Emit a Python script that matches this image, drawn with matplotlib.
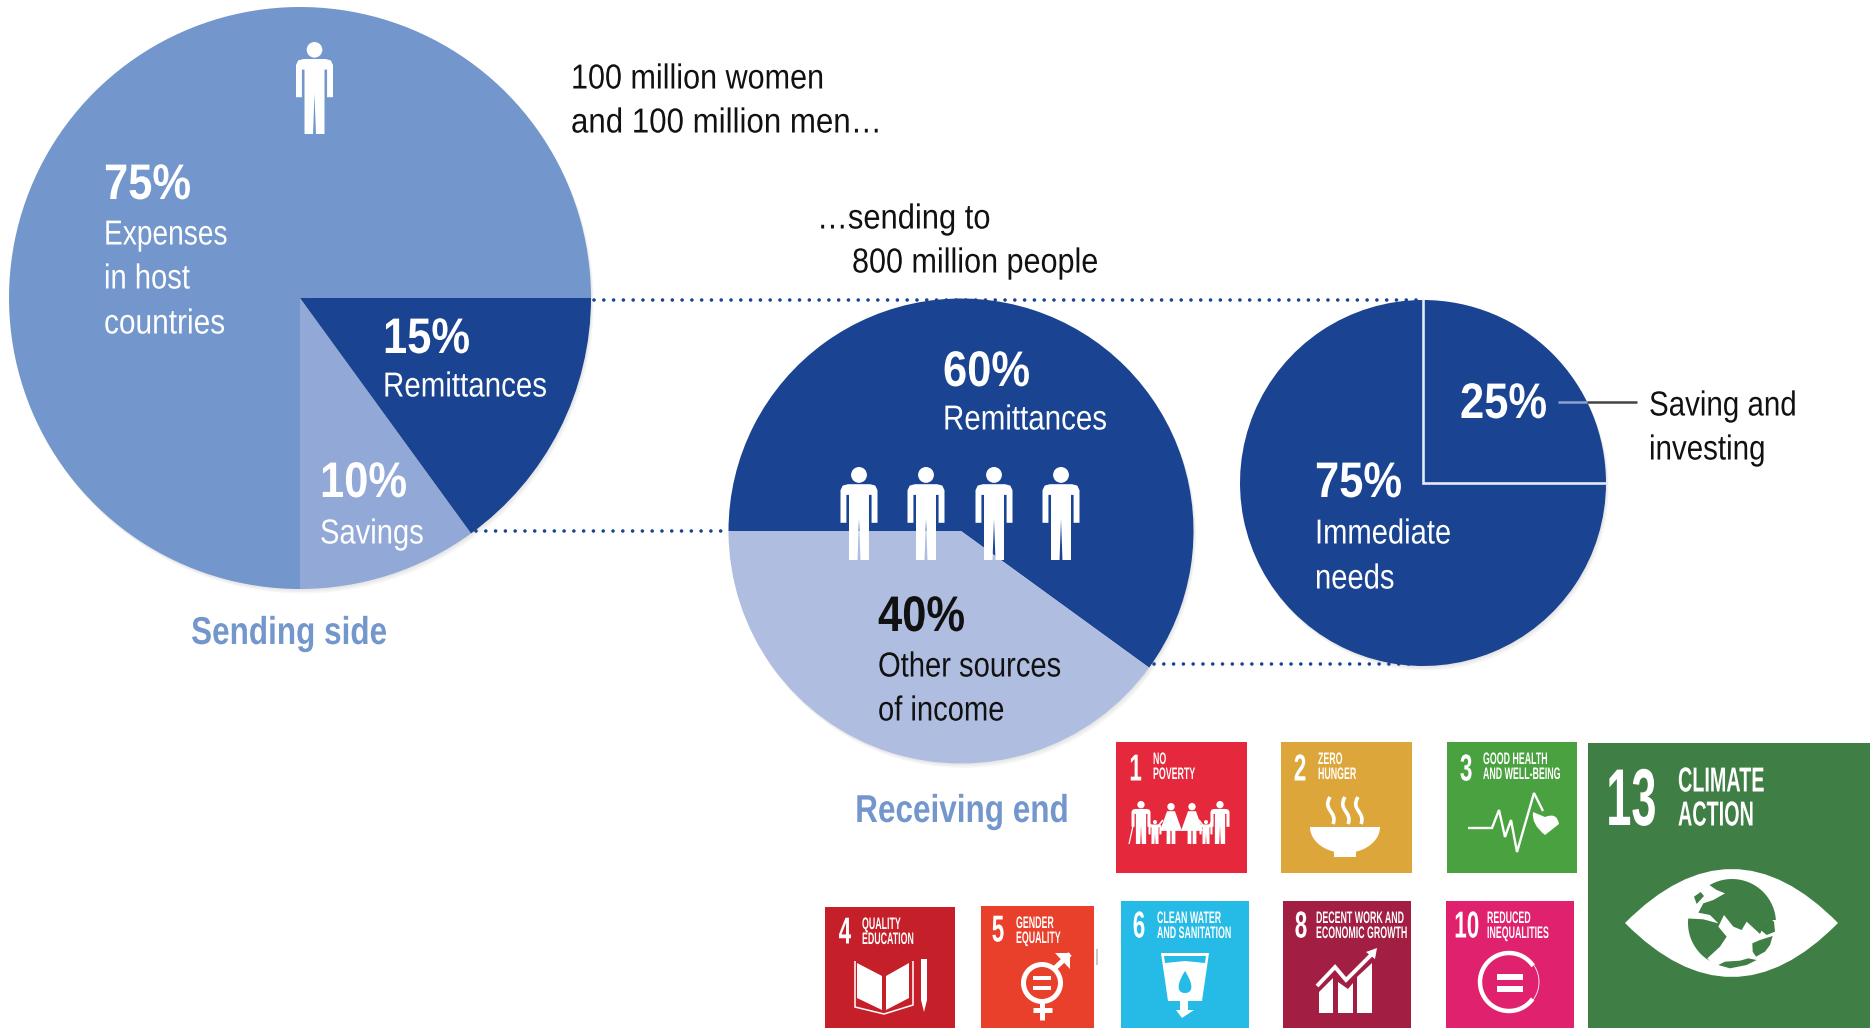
import numpy as np
import matplotlib
matplotlib.use("Agg")
import matplotlib.pyplot as plt
from matplotlib.colors import to_rgba
from matplotlib.patches import Circle, Polygon, PathPatch, Rectangle
from matplotlib.path import Path
from matplotlib.text import Text
from matplotlib.textpath import TextPath
from matplotlib.transforms import Affine2D, Bbox

# shares shown in the three circles
sending_values = [75, 10, 15]
receiving_values = [60, 40]
use_values = [25, 75]

# goal tiles: number, two title lines, colour
tile_numbers = ["1", "2", "3", "4", "5", "6", "8", "10", "13"]
tile_titles = [
    ["NO", "POVERTY"], ["ZERO", "HUNGER"], ["GOOD HEALTH", "AND WELL-BEING"],
    ["QUALITY", "EDUCATION"], ["GENDER", "EQUALITY"], ["CLEAN WATER", "AND SANITATION"],
    ["DECENT WORK AND", "ECONOMIC GROWTH"], ["REDUCED", "INEQUALITIES"], ["CLIMATE", "ACTION"],
]
tile_colors = ["#E5283C", "#DDA63A", "#49A23F", "#C5202A", "#E9402C",
               "#25BBE6", "#A21F43", "#E0226E", "#3F7E44"]

MID = "#7397CC"
PALE = "#92A9D7"
DARK = "#1A4491"
SOFT = "#AFBDE0"
INK = "#111111"

fig = plt.figure(figsize=(18.7, 10.28), dpi=100)
ax = fig.add_axes([0, 0, 1, 1])
ax.set_xlim(0, 1870)
ax.set_ylim(1028, 0)  # pixel style, y runs downwards


class SqueezedText(Text):
    # no condensed face is installed, so narrow the glyph outlines when drawing
    def __init__(self, *args, squeeze=1.0, **kwargs):
        super().__init__(*args, **kwargs)
        self.squeeze = squeeze

    def _placed_path(self):
        px = self.get_fontsize() * fig.dpi / 72
        tp = TextPath((0, 0), self.get_text(), size=px, prop=self.get_fontproperties())
        ext = tp.get_extents()
        x, y = self.get_transform().transform(self.get_unitless_position())
        dx = 0 if self.get_ha() == "left" else -(ext.x0 + ext.x1) / 2
        # y is the middle of the capitals
        return tp, Affine2D().translate(dx, 0).scale(self.squeeze, 1).translate(x, y - 0.36 * px)

    def draw(self, renderer):
        tp, trans = self._placed_path()
        gc = renderer.new_gc()
        gc.set_linewidth(0)
        renderer.draw_path(gc, tp, trans, rgbFace=to_rgba(self.get_color()))
        gc.restore()

    def get_window_extent(self, renderer=None, dpi=None):
        tp, trans = self._placed_path()
        return Bbox(tp.get_extents(trans))


def label(x, y, s, size=25, color="white", weight="normal", ha="left", squeeze=0.84):
    ax.add_artist(SqueezedText(x, y, s, fontsize=size, color=color, fontweight=weight,
                               family=["Liberation Sans"], ha=ha, zorder=7, squeeze=squeeze))


def pie(values, colors, cx, cy, r, start):
    for off in (1.5, 3, 4.5):
        ax.add_patch(Circle((cx + off * 0.6, cy + off), r, fc="k", ec="none", alpha=0.03, zorder=1))
    # y axis is flipped, so clockwise here reads as counterclockwise on screen
    ax.pie(values, colors=colors, center=(cx, cy), radius=r, startangle=start,
           counterclock=False, frame=True, wedgeprops=dict(linewidth=0, zorder=2))


def white(pts, z=5, color="white"):
    ax.add_patch(Polygon(pts, closed=True, fc=color, ec="none", zorder=z))


def stroke(xs, ys, lw=2.0, color="white", z=5):
    ax.plot(xs, ys, color=color, lw=lw, solid_capstyle="butt", solid_joinstyle="miter", zorder=z)


def person(cx, top, w, h, z=5):
    # head plus a body outline, both in fractions of the figure size
    ax.add_patch(Circle((cx, top + 0.085 * h), 0.085 * h, fc="white", ec="none", zorder=z))
    half = np.array([
        (0.04, 1.0), (0.27, 1.0), (0.27, 0.30), (0.34, 0.30), (0.34, 0.60), (0.50, 0.60),
        (0.50, 0.25), (0.44, 0.20), (0.30, 0.185), (0.0, 0.185),
    ])
    right = [(cx + px * w, top + py * h) for px, py in half]
    left = [(cx - px * w, top + py * h) for px, py in half[::-1]]
    white(right + left + [(cx, top + 0.56 * h)], z)


def dress(cx, top, w, h, z=5):
    ax.add_patch(Circle((cx, top + 0.09 * h), 0.09 * h, fc="white", ec="none", zorder=z))
    white([(cx - 0.18 * w, top + 0.2 * h), (cx + 0.18 * w, top + 0.2 * h),
           (cx + 0.5 * w, top + 0.68 * h), (cx + 0.2 * w, top + 0.68 * h),
           (cx + 0.2 * w, top + h), (cx + 0.03 * w, top + h), (cx + 0.03 * w, top + 0.68 * h),
           (cx - 0.03 * w, top + 0.68 * h), (cx - 0.03 * w, top + h), (cx - 0.2 * w, top + h),
           (cx - 0.2 * w, top + 0.68 * h), (cx - 0.5 * w, top + 0.68 * h)], z)


def curve(verts, codes, fc="white", ec="none", lw=0, z=5):
    ax.add_patch(PathPatch(Path(verts, codes), fc=fc, ec=ec, lw=lw, zorder=z))


def globe_pts(pts):
    # outline points for the globe are noted at 3x of the tile corner
    return [(1570 + x / 3, 730 + y / 3) for x, y in pts]


pie(sending_values, [MID, PALE, DARK], 300, 298, 291, 0)
pie(receiving_values, [DARK, SOFT], 961, 531, 232.5, 36)
pie(use_values, [DARK, DARK], 1423, 483, 183, 0)

# dotted leaders between the circles
dots = dict(color=DARK, lw=2.6, ls=(0, (0.01, 2.7)), dash_capstyle="round", zorder=3)
ax.plot([594, 1423], [300, 300], **dots)
ax.plot([476, 730], [531, 531], **dots)
ax.plot([1154, 1423], [664, 664], **dots)

# quarter marked on the right circle
ax.plot([1423, 1423, 1606], [300, 483, 483], color="#E4E9F4", lw=1.9, solid_joinstyle="miter", zorder=4)
stroke([1558, 1587], [402, 402], lw=1.8, color="#8CA3D0")
stroke([1587, 1637], [402, 402], lw=1.8, color="#444444")

person(314.5, 42, 37, 92)
for px in (859, 926, 994, 1061):
    person(px, 467, 37, 93)

label(571, 76, "100 million women", color=INK, squeeze=0.88)
label(571, 120, "and 100 million men…", color=INK, squeeze=0.9)
label(817, 216, "…sending to", color=INK, squeeze=0.89)
label(852, 260, "800 million people", color=INK, squeeze=0.88)

label(104, 181, f"{sending_values[0]}%", 36, weight="bold", squeeze=0.87)
label(104, 232, "Expenses", squeeze=0.81)
label(104, 276, "in host")
label(104, 321, "countries", squeeze=0.86)
label(383, 335, f"{sending_values[2]}%", 36, weight="bold", squeeze=0.87)
label(383, 384, "Remittances", squeeze=0.85)
label(320, 479, f"{sending_values[1]}%", 36, weight="bold", squeeze=0.87)
label(320, 531, "Savings")
label(289, 630, "Sending side", 28, MID, "bold", ha="center", squeeze=0.81)

label(943, 368, f"{receiving_values[0]}%", 36, weight="bold", squeeze=0.87)
label(943, 417, "Remittances", squeeze=0.85)
label(878, 613, f"{receiving_values[1]}%", 36, INK, "bold", squeeze=0.87)
label(878, 664, "Other sources", color=INK)
label(878, 708, "of income", color=INK)
label(962, 808, "Receiving end", 28, MID, "bold", ha="center", squeeze=0.81)

label(1460, 400, f"{use_values[0]}%", 36, weight="bold", squeeze=0.87)
label(1315, 479, f"{use_values[1]}%", 36, weight="bold", squeeze=0.87)
label(1315, 531, "Immediate")
label(1315, 576, "needs")
label(1649, 403, "Saving and", color=INK, squeeze=0.85)
label(1649, 447, "investing", color=INK, squeeze=0.85)

# goal tiles, layout kept apart from the tile contents
tile_boxes = [(1116, 742, 131, 131), (1281, 742, 131, 131), (1447, 742, 130, 131),
              (825, 907, 130, 121), (981, 906, 113, 122), (1121, 901, 128, 127),
              (1283, 901, 128, 127), (1446, 901, 128, 127), (1588, 743, 282, 285)]
number_x = [1136, 1300, 1466, 845, 998, 1139, 1301, 1467, 1632]
title_x = [1153, 1318, 1483, 862, 1016, 1157, 1316, 1487, 1678]
first_line_y = [758, 758, 758, 923, 922, 917, 917, 917, 779]
number_y = [767, 767, 767, 930, 928, 924, 924, 924, 796]

for i, (x, y, w, h) in enumerate(tile_boxes):
    ax.add_patch(Rectangle((x, y), w, h, fc=tile_colors[i], ec="none", zorder=3))
    big = i == 8
    label(number_x[i], number_y[i], tile_numbers[i], 58 if big else 27, weight="bold",
          ha="center", squeeze=0.56 if big else 0.6)
    for j, line in enumerate(tile_titles[i]):
        label(title_x[i], first_line_y[i] + (34 if big else 15) * j, line, 25 if big else 12,
              weight="bold", squeeze=0.57 if big else 0.53)

# 1 no poverty: family row
person(1141, 801, 19, 43)
person(1220, 801, 19, 43)
person(1155, 820, 13, 24)
person(1206, 820, 13, 24)
dress(1171, 803, 22, 41)
dress(1192, 803, 22, 41)
stroke([1129, 1133], [844, 826], lw=0.9)
stroke([1148, 1155, 1163], [822, 830, 820], lw=1.2)
stroke([1199, 1206, 1213], [820, 830, 820], lw=1.2)

# 2 zero hunger: bowl and steam
t = np.linspace(0, np.pi, 40)
white(np.column_stack([1345 + 35 * np.cos(t), 827 + 26 * np.sin(t)]))
white([(1334, 850), (1356, 850), (1356, 857), (1334, 857)])
for sx in (1330, 1345, 1358):
    curve([(sx, 797), (sx - 8, 810), (sx + 8, 812), (sx + 3, 824)],
          [Path.MOVETO, Path.CURVE4, Path.CURVE4, Path.CURVE4], fc="none", ec="white", lw=2.6)

# 3 health: pulse line and heart
stroke([1468, 1492, 1499, 1505, 1511, 1517, 1534, 1543],
       [828, 828, 810, 837, 820, 852, 793, 811], lw=1.7)
hx, hy = 1545, 822
curve([(hx, hy + 13), (hx - 14, hy + 2), (hx - 12, hy - 10), (hx, hy - 5),
       (hx + 12, hy - 10), (hx + 14, hy + 2), (hx, hy + 13)],
      [Path.MOVETO, Path.CURVE3, Path.CURVE3, Path.LINETO, Path.CURVE3, Path.CURVE3, Path.CLOSEPOLY])

# 4 education: open book and pencil
white([(857, 963), (882, 976), (882, 1010), (857, 998)])
white([(886, 976), (909, 963), (909, 998), (886, 1010)])
stroke([855, 855, 884, 913, 913], [961, 1007, 1014, 1005, 961], lw=1.1)
white([(921, 959), (927, 959), (927, 1000), (924, 1012), (921, 1000)])

# 5 gender: ring with arrow and cross
ax.add_patch(Circle((1042, 983), 18.5, fc="none", ec="white", lw=3.6, zorder=5))
white([(1033, 976), (1051, 976), (1051, 980), (1033, 980)])
white([(1033, 986), (1051, 986), (1051, 990), (1033, 990)])
stroke([1042, 1042], [1003, 1020], lw=3.6)
stroke([1033, 1052], [1010, 1010], lw=3.6)
stroke([1054, 1070], [969, 954], lw=3.6)
white([(1055, 953), (1070, 953), (1070, 969)])

# 6 water: glass with drop
white([(1161, 953), (1209, 953), (1202, 1001), (1188, 1001), (1188, 1010), (1194, 1010),
       (1182, 1018), (1176, 1010), (1180, 1010), (1180, 1001), (1168, 1001)])
white([(1164, 956), (1206, 956), (1205, 963), (1185, 961), (1165, 963)], z=6, color=tile_colors[5])
curve([(1185, 971), (1176, 985), (1177, 993), (1185, 993), (1193, 993), (1194, 985), (1185, 971)],
      [Path.MOVETO, Path.CURVE4, Path.CURVE4, Path.CURVE4, Path.CURVE4, Path.CURVE4, Path.CURVE4],
      fc=tile_colors[5], z=6)

# 8 work: rising bars and arrow
white([(1319, 1013), (1319, 992), (1333, 978), (1333, 1013)])
white([(1338, 1013), (1338, 982), (1348, 989), (1353, 983), (1353, 1013)])
white([(1357, 1013), (1357, 977), (1372, 963), (1372, 1013)])
stroke([1317, 1335, 1346, 1372], [986, 967, 980, 954], lw=2.8)
white([(1366, 952), (1377, 948), (1375, 959)])

# 10 inequalities: open ring and equals sign
t = np.radians(np.linspace(40, 322, 80))
ax.plot(1509 + 29 * np.cos(t), 982 + 29 * np.sin(t), color="white", lw=3.2, zorder=5)
t = np.radians(np.linspace(-32, 40, 30))
ax.plot(1509 + 30 * np.cos(t), 982 + 30 * np.sin(t), color="white", lw=0.6, zorder=5)
white([(1497, 974), (1523, 974), (1523, 980), (1497, 980)])
white([(1497, 986), (1523, 986), (1523, 992), (1497, 992)])

# 13 climate: eye holding a globe
curve([(1625, 923), (1732, 815), (1838, 923), (1732, 1031), (1625, 923)],
      [Path.MOVETO, Path.CURVE3, Path.CURVE3, Path.CURVE3, Path.CURVE3])
ax.add_patch(Circle((1732, 923), 44, fc=tile_colors[8], ec="none", zorder=6))
white(globe_pts([(346, 565), (355, 520), (375, 480), (420, 445), (418, 465), (440, 480), (465, 490),
                 (430, 510), (400, 520), (385, 548), (420, 555), (445, 580), (400, 568)]), z=7)
white(globe_pts([(445, 590), (462, 555), (490, 590), (515, 600), (530, 575), (570, 612), (590, 570),
                 (618, 570), (622, 620), (600, 675), (560, 705), (500, 722), (440, 718), (412, 685),
                 (450, 650), (470, 620)]), z=7)
white(globe_pts([(445, 705), (465, 695), (510, 692), (535, 685), (560, 690), (530, 705), (480, 715)]),
      z=8, color=tile_colors[8])
white(globe_pts([(547, 640), (570, 630), (608, 618), (600, 645), (585, 665), (558, 680), (548, 665)]),
      z=8, color=tile_colors[8])
white(globe_pts([(572, 600), (595, 560), (612, 575), (615, 605), (590, 615)]), z=8, color=tile_colors[8])
white(globe_pts([(372, 500), (392, 486), (402, 498), (380, 522)]), z=8, color=tile_colors[8])

ax.plot([1096.5, 1096.5], [950, 964], color="#C9C9C9", lw=1.5, zorder=2)

ax.set_xlim(0, 1870)
ax.set_ylim(1028, 0)
ax.axis("off")
fig.savefig("out.png", dpi=100)
